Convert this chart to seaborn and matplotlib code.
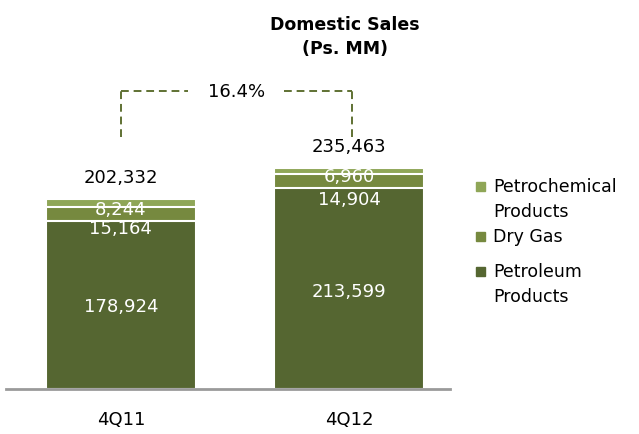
import matplotlib
matplotlib.use("Agg")
import matplotlib.pyplot as plt
import seaborn as sns
import numpy as np
import pandas as pd

categories = ["4Q11", "4Q12"]
petroleum = [178924, 213599]
dry_gas = [15164, 14904]
petrochemical = [8244, 6960]
totals = [202332, 235463]
growth_label = "16.4%"
series_names = ["Petrochemical\nProducts", "Dry Gas", "Petroleum\nProducts"]
title = "Domestic Sales\n(Ps. MM)"

c_petchem = "#8fa657"
c_dry = "#76893f"
c_petro = "#556631"
c_line = "#5f7133"

sns.set_style("white")
plt.rcParams["font.family"] = ["DejaVu Sans"]
plt.rcParams["text.color"] = "black"
plt.rcParams["xtick.color"] = "black"

fig = plt.figure(figsize=(6.39, 4.35), dpi=100)
ax = fig.add_axes([6 / 639, 45 / 435, 444 / 639, 370 / 435])

df = pd.DataFrame({
    "cat": categories,
    "petro": petroleum,
    "dry": dry_gas,
    "pchem": petrochemical,
})
df["cum_dry"] = df["petro"] + df["dry"]
df["cum_all"] = df["cum_dry"] + df["pchem"]

w = 0.658
for col, colr in [("cum_all", c_petchem), ("cum_dry", c_dry), ("petro", c_petro)]:
    sns.barplot(data=df, x="cat", y=col, color=colr, saturation=1, width=w,
                edgecolor="white", linewidth=1.5, ax=ax)

ax.set_xlim(-0.504, 1.443)
ax.set_ylim(0, 394000)
ax.set_xlabel("")
ax.set_ylabel("")
ax.set_yticks([])
for s in ["top", "right", "left"]:
    ax.spines[s].set_visible(False)
ax.spines["bottom"].set_color("#9a9a9a")
ax.spines["bottom"].set_linewidth(2)
ax.tick_params(axis="x", length=0, pad=15, labelsize=13, labelcolor="black")

fs = 13
# petroleum labels (centered)
for i in range(2):
    ax.annotate(f"{petroleum[i]:,}", (i, petroleum[i] / 2), xytext=(0, -1 if i == 0 else -2),
                textcoords="offset points", ha="center", va="center", color="white", fontsize=fs)
# dry gas labels
dry_off = [-10.4, -12.6]
for i in range(2):
    yc = petroleum[i] + dry_gas[i] / 2
    ax.annotate(f"{dry_gas[i]:,}", (i, yc), xytext=(0, dry_off[i]), textcoords="offset points",
                ha="center", va="center", color="white", fontsize=fs)
# petrochemical labels
pc_off = [-4.3, -3.4]
for i in range(2):
    yc = petroleum[i] + dry_gas[i] + petrochemical[i] / 2
    ax.annotate(f"{petrochemical[i]:,}", (i, yc), xytext=(0, pc_off[i]), textcoords="offset points",
                ha="center", va="center", color="white", fontsize=fs)
# totals
for i in range(2):
    ax.annotate(f"{totals[i]:,}", (i, totals[i]), xytext=(0, 16), textcoords="offset points",
                ha="center", va="center", color="black", fontsize=fs)

# growth bracket
yb = 316800
ybot = 268400
xr = 1.013
kw = dict(color=c_line, lw=1.4, linestyle=(0, (4, 2.5)))
ax.plot([0, 0], [ybot, yb], **kw)
ax.plot([xr, xr], [ybot, yb], **kw)
ax.plot([0, 0.294], [yb, yb], **kw)
ax.plot([0.715, xr], [yb, yb], **kw)
ax.text(0.509, yb, growth_label, ha="center", va="center", fontsize=fs, color="black")

# title
fig.text(345 / 639, 1 - 37 / 435, title, ha="center", va="center", fontsize=12.5,
         fontweight="bold", linespacing=1.45, color="black")

# legend (manual)
colors = [c_petchem, c_dry, c_petro]
rows = [187, 237, 272]
for name, colr, yr in zip(series_names, colors, rows):
    fig.patches.append(plt.Rectangle((476 / 639, 1 - (yr + 4.5) / 435), 9 / 639, 9 / 435,
                                     transform=fig.transFigure, color=colr, figure=fig))
    if "\n" in name:
        fig.text(493 / 639, 1 - (yr - 9) / 435, name, ha="left", va="top",
                 fontsize=12.5, linespacing=1.5, color="black")
    else:
        fig.text(493 / 639, 1 - yr / 435, name, ha="left", va="center", fontsize=12.5,
                 color="black")

fig.savefig("out.png", dpi=100)
